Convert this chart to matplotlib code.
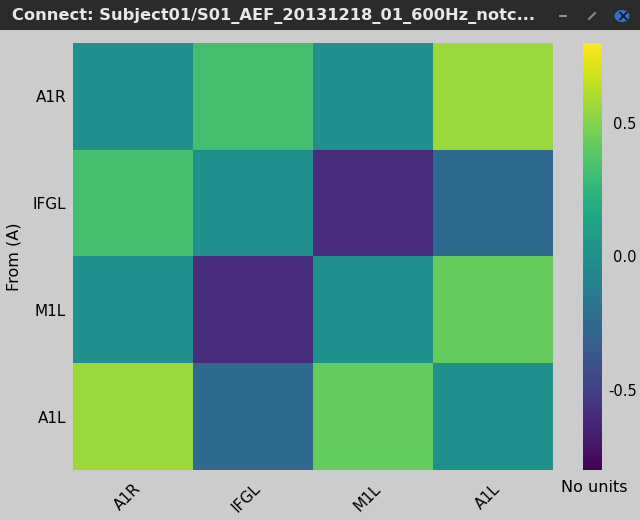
"""Connectivity matrix heatmap (Brainstorm-style window)."""

import matplotlib

matplotlib.use("Agg")
import matplotlib.pyplot as plt
import numpy as np
from matplotlib.lines import Line2D
from matplotlib.patches import Circle, Rectangle

title = "Connect: Subject01/S01_AEF_20131218_01_600Hz_notc..."
regions = ["A1R", "IFGL", "M1L", "A1L"]
values = np.array([
    [0.00, 0.33, 0.00, 0.56],
    [0.33, 0.00, -0.60, -0.24],
    [0.00, -0.60, 0.00, 0.42],
    [0.56, -0.24, 0.42, 0.00],
])
vmin, vmax = -0.8, 0.8
cbar_ticks = [-0.5, 0.0, 0.5]

bg = "#cccccc"
fig = plt.figure(figsize=(6.4, 5.2), dpi=100, facecolor=bg)
W, H = 640, 520

# window title bar
fig.patches.append(Rectangle((0, 1 - 30 / H), 1, 30 / H, transform=fig.transFigure,
                             facecolor="#2b2b2b", edgecolor="none", zorder=0))
fig.text(12 / W, 1 - 16 / H, title, color="#e8e8e8", fontsize=11.7, fontweight="bold",
         va="center", ha="left")
fig.lines.append(Line2D([560 / W, 566 / W], [1 - 16 / H] * 2, transform=fig.transFigure,
                        color="#aaaaaa", lw=1.2))
fig.lines.append(Line2D([589 / W, 595 / W], [1 - 19 / H, 1 - 13 / H], transform=fig.transFigure,
                        color="#888888", lw=1.5))
fig.patches.append(Circle((622 / W, 1 - 16 / H), 7.5 / W, transform=fig.transFigure,
                          facecolor="#2f6fd6", edgecolor="none"))
fig.text(622 / W, 1 - 16.5 / H, "\u00d7", color="#1a1a1a", fontsize=11, fontweight="bold",
         va="center", ha="center")

ax = fig.add_axes([73 / W, 50 / H, 480 / W, 427 / H])
im = ax.imshow(values, cmap="viridis", vmin=vmin, vmax=vmax, aspect="auto",
               interpolation="nearest")
ax.set_xticks(range(len(regions)))
ax.set_xticklabels(regions, rotation=45, ha="right", rotation_mode="anchor")
ax.set_yticks(range(len(regions)))
ax.set_yticklabels(regions)
ax.tick_params(axis="y", length=0, labelsize=11, pad=5)
ax.tick_params(axis="x", length=0, labelsize=11, pad=8)
ax.set_ylabel("From (A)", fontsize=11.5, labelpad=8)
for s in ax.spines.values():
    s.set_visible(False)

cax = fig.add_axes([583 / W, 50 / H, 19 / W, 427 / H])
cb = fig.colorbar(im, cax=cax, ticks=cbar_ticks)
cb.outline.set_visible(False)
# right-aligned labels ending just inside the window edge
cb.ax.tick_params(length=0, labelsize=10.5, pad=25)
cb.ax.set_yticklabels([f"{t:.1f}" for t in cbar_ticks], ha="right")
fig.text(594 / W, 1 - 488 / H, "No units", fontsize=11.5, ha="center", va="center")

fig.savefig("out.png", facecolor=bg)
